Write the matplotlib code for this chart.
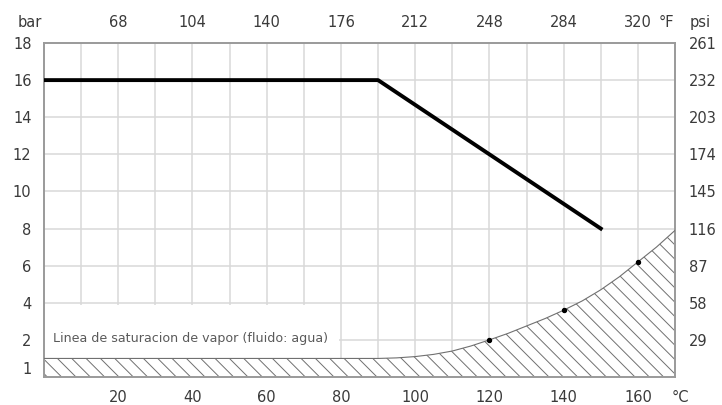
import numpy as np
import matplotlib.pyplot as plt
from matplotlib.patches import Rectangle

# render at a lower dpi so the hatch comes out as dense as in the original;
# all point sizes are scaled by k to keep the same pixel sizes
DPI = 86
k = 100 / DPI

plt.rcParams['font.family'] = ['DejaVu Sans']
plt.rcParams['hatch.linewidth'] = 0.7 * k

# max working pressure (bar) vs temperature (C)
line_temp = [0, 90, 150]
line_pres = [16, 16, 8]

# vapour saturation line (water)
sat_temp = [0, 90, 95, 100, 105, 110, 115, 120, 125, 130, 135, 140, 145, 150, 155, 160, 165, 170]
sat_pres = [1.0, 1.0, 1.03, 1.1, 1.22, 1.4, 1.67, 2.0, 2.35, 2.75, 3.15, 3.6, 4.1, 4.7, 5.4, 6.2, 7.0, 7.9]
dot_temp = [120, 140, 160]
dot_pres = [2.0, 3.6, 6.2]

c_ticks = [20, 40, 60, 80, 100, 120, 140, 160]
f_ticks = [68, 104, 140, 176, 212, 248, 284, 320]
bar_ticks = [1, 2, 4, 6, 8, 10, 12, 14, 16, 18]
psi_ticks = [29, 58, 87, 116, 145, 174, 203, 232, 261]

txt = '#3a3a3a'
fs = 10.5 * k
fig = plt.figure(figsize=(722 / DPI, 405 / DPI), dpi=DPI)
ax = fig.add_axes([44 / 722, 1 - 377 / 405, 631 / 722, 334 / 405])
ax.set_xlim(0, 170)
ax.set_ylim(0, 18)

ax.set_xticks(c_ticks, [str(c) for c in c_ticks])
# the "1" label sits in the middle of the 0-1 bar band
ypos = [t if t > 1 else t / 2 for t in bar_ticks]
ax.set_yticks(ypos, [str(b) for b in bar_ticks])
ax.tick_params(length=0, labelsize=fs, labelcolor=txt, pad=9 * k)

# grid: every 10 C and every 2 bar
ax.vlines(np.arange(10, 170, 10), 0, 18, color='#d8d8d8', linewidth=1.1 * k, zorder=0)
ax.hlines(np.arange(2, 18, 2), 0, 170, color='#d8d8d8', linewidth=1.1 * k, zorder=0)

for s in ax.spines.values():
    s.set_color('#9a9a9a')
    s.set_linewidth(1.4 * k)

# white box behind the label
ax.add_patch(Rectangle((0, 1), 79.4, 2.9, facecolor='white', edgecolor='none', zorder=1))
ax.text(2.4, 2.05, 'Linea de saturacion de vapor (fluido: agua)', fontsize=9.1 * k,
        color='#5a5a5a', va='center', ha='left', zorder=3)

ax.fill_between(sat_temp, 0, sat_pres, facecolor='white', edgecolor='#707070',
                hatch='\\\\', linewidth=0, zorder=2)
ax.plot(sat_temp, sat_pres, color='#707070', linewidth=0.8 * k, zorder=3)
ax.plot(dot_temp, dot_pres, 'o', color='black', markersize=3 * k, zorder=4)

ax.plot(line_temp, line_pres, color='black', linewidth=2.8 * k, zorder=5)

top = ax.secondary_xaxis('top', functions=(lambda c: c * 1.8 + 32, lambda f: (f - 32) / 1.8))
top.set_xticks(f_ticks, [str(f) for f in f_ticks])
top.tick_params(length=0, labelsize=fs, labelcolor=txt, pad=9 * k)
top.spines['top'].set_visible(False)

right = ax.secondary_yaxis('right', functions=(lambda b: b * 14.5, lambda p: p / 14.5))
right.set_yticks(psi_ticks, [str(p) for p in psi_ticks])
right.tick_params(length=0, labelsize=fs, labelcolor=txt, pad=10 * k)
right.spines['right'].set_visible(False)

ax.text(-0.022, 1.06, 'bar', transform=ax.transAxes, ha='center', va='center', fontsize=fs, color=txt)
ax.text(0.987, 1.06, '°F', transform=ax.transAxes, ha='center', va='center', fontsize=fs, color=txt)
ax.text(1.04, 1.06, 'psi', transform=ax.transAxes, ha='center', va='center', fontsize=fs, color=txt)
ax.text(1.008, -0.06, '°C', transform=ax.transAxes, ha='center', va='center', fontsize=fs, color=txt)

fig.savefig('out.png', dpi=DPI)
